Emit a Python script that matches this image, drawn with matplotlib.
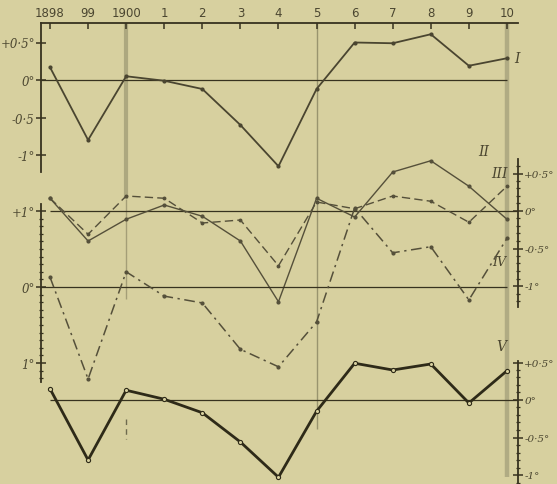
import matplotlib.pyplot as plt
import numpy as np

# years 1898 .. 1910
years = list(range(1898, 1911))
year_labels = ["1898", "99", "1900", "1", "2", "3", "4", "5", "6", "7", "8", "9", "10"]

# curve I (top panel)
curve_I = [0.17, -0.80, 0.05, -0.01, -0.12, -0.60, -1.15, -0.12, 0.50, 0.49, 0.61, 0.19, 0.29]
# curves II and III (middle panel, right scale)
curve_II = [0.17, -0.40, -0.11, 0.08, -0.07, -0.40, -1.21, 0.17, -0.08, 0.52, 0.67, 0.33, -0.11]
curve_III = [0.17, -0.31, 0.20, 0.17, -0.16, -0.12, -0.73, 0.12, 0.03, 0.20, 0.13, -0.15, 0.33]
# curve IV (middle panel, left scale)
curve_IV = [0.13, -1.21, 0.20, -0.12, -0.21, -0.82, -1.05, -0.46, 1.04, 0.45, 0.53, -0.17, 0.64]
# curve V (bottom panel)
curve_V = [0.15, -0.80, 0.13, 0.01, -0.17, -0.56, -1.03, -0.15, 0.49, 0.40, 0.48, -0.04, 0.39]

W, H = 557, 485
BG = "#d7d09f"
INK = "#37321f"
serif = {"family": "DejaVu Serif", "style": "italic"}

fig = plt.figure(figsize=(W / 100, H / 100), dpi=100, facecolor=BG)

# pixel geometry of the scan: 1898 at x=50, one year = 38.08 px
x_left = 1898 - 9 / 38.08
x_right = 1898 + 468 / 38.08


def px_axes(x0, y0, x1, y1):
    ax = fig.add_axes([x0 / W, 1 - y1 / H, (x1 - x0) / W, (y1 - y0) / H])
    ax.set_facecolor("none")
    ax.set_xlim(x_left, x_right)
    for s in ax.spines.values():
        s.set_visible(False)
        s.set_color(INK)
        s.set_linewidth(1.3)
    ax.set_xticks([])
    ax.set_yticks([])
    return ax


def deg_ticks(ax, side, majors, labels, minors=None, size=8.5):
    ax.yaxis.set_ticks_position(side)
    ax.set_yticks(majors)
    ax.set_yticklabels(labels, fontdict=serif, fontsize=size, color="#4b4630")
    ax.tick_params(axis="y", which="major", direction="inout", length=7, width=1.1,
                   color=INK, pad=1)
    if minors is not None:
        ax.set_yticks(minors, minor=True)
        ax.tick_params(axis="y", which="minor", direction="inout", length=3, width=0.9,
                       color=INK)


# background axes for the long vertical guide lines (pixel rows)
bg = px_axes(41, 0, 518, 485)
bg.set_ylim(485, 0)
bg.vlines(1900, 24, 200, color="#a39e78", linewidth=3, alpha=0.8)
bg.vlines(1900, 200, 300, color="#8f8a66", linewidth=1.0, alpha=0.7)
bg.vlines(1900, 420, 440, color="#6e6a4e", linewidth=1.0, linestyles=(0, (4, 3)))
bg.vlines(1905, 24, 430, color="#8a8562", linewidth=1.0, alpha=0.8)
bg.vlines(1910, 24, 478, color="#a7a27d", linewidth=3.2, alpha=0.8)

# ---- panel I ----
ax1 = px_axes(41, 24, 518, 173)
ax1.set_ylim(-(173 - 81) / 75, (81 - 24) / 75)
ax1.spines["top"].set_visible(True)
ax1.spines["left"].set_visible(True)
ax1.xaxis.set_ticks_position("top")
ax1.set_xticks(years)
ax1.set_xticklabels(year_labels, fontsize=8.5, color="#4b4630", family="DejaVu Sans")
ax1.tick_params(axis="x", direction="in", length=4, width=1.1, color=INK, pad=3)
deg_ticks(ax1, "left", [0.5, 0, -0.5, -1], ["+0·5°", "0°", "-0·5", "-1°"])
ax1.hlines(0, x_left, 1910, color=INK, linewidth=0.9)
ax1.plot(years, curve_I, color="#4a4530", linewidth=1.3, marker="o", markersize=2)
ax1.text(1910.2, 0.29, "I", fontdict=serif, fontsize=10, color="#4b4630", va="center")

# ---- middle panel, right scale (II, III) ----
ax2 = px_axes(41, 160, 518, 383)
ax2.set_ylim(-(383 - 212) / 75, (212 - 160) / 75)
ax2.spines["right"].set_visible(True)
ax2.spines["right"].set_bounds(-(308 - 212) / 75, (212 - 160) / 75)
deg_ticks(ax2, "right", [0.5, 0, -0.5, -1], ["+0·5°", "0°", "-0·5°", "-1°"],
          np.arange(-1.2, 0.7, 0.1), size=7.5)
ax2.hlines(0, 1898, x_right, color=INK, linewidth=0.9)
ax2.plot(years, curve_II, color="#55503a", linewidth=1.0, marker="o", markersize=2)
ax2.plot(years, curve_III, color="#55503a", linewidth=1.0, linestyle=(0, (6, 3)),
         marker="o", markersize=1.8)
ax2.text(1909.4, 0.80, "II", fontdict=serif, fontsize=10, color="#4b4630", va="center",
         ha="center")
ax2.text(1909.8, 0.50, "III", fontdict=serif, fontsize=10, color="#4b4630", va="center",
         ha="center")
ax2.text(1909.8, -0.67, "IV", fontdict=serif, fontsize=9, color="#4b4630", va="center",
         ha="center")

# ---- middle panel, left scale (IV) ----
ax3 = px_axes(41, 160, 518, 383)
ax3.set_ylim(-(383 - 288) / 76, (288 - 160) / 76)
ax3.spines["left"].set_visible(True)
ax3.spines["left"].set_bounds(-(383 - 288) / 76, (288 - 205) / 76)
deg_ticks(ax3, "left", [1, 0, -1], ["+1°", "0°", "1°"], np.arange(-1.2, 1.05, 0.1))
ax3.hlines(0, x_left, 1910, color=INK, linewidth=0.9)
ax3.plot(years, curve_IV, color="#55503a", linewidth=1.1, linestyle=(0, (7, 3, 1.5, 3)),
         marker="o", markersize=2)

# ---- panel V ----
ax4 = px_axes(41, 330, 518, 485)
ax4.set_ylim(-(485 - 401) / 75, (401 - 330) / 75)
ax4.spines["right"].set_visible(True)
ax4.spines["right"].set_bounds(-(485 - 401) / 75, (401 - 362) / 75)
deg_ticks(ax4, "right", [0.5, 0, -0.5, -1], ["+0·5°", "0°", "-0·5°", "-1°"],
          np.arange(-1.1, 0.55, 0.1), size=7.5)
ax4.hlines(0, 1898, x_right, color=INK, linewidth=0.9)
ax4.plot(years, curve_V, color="#2e2a18", linewidth=2.0, marker="o", markersize=3,
         markerfacecolor=BG, markeredgewidth=0.8)
ax4.text(1909.85, 0.72, "V", fontdict=serif, fontsize=10, color="#4b4630", va="center",
         ha="center")

fig.savefig("out.png", dpi=100, facecolor=BG)
